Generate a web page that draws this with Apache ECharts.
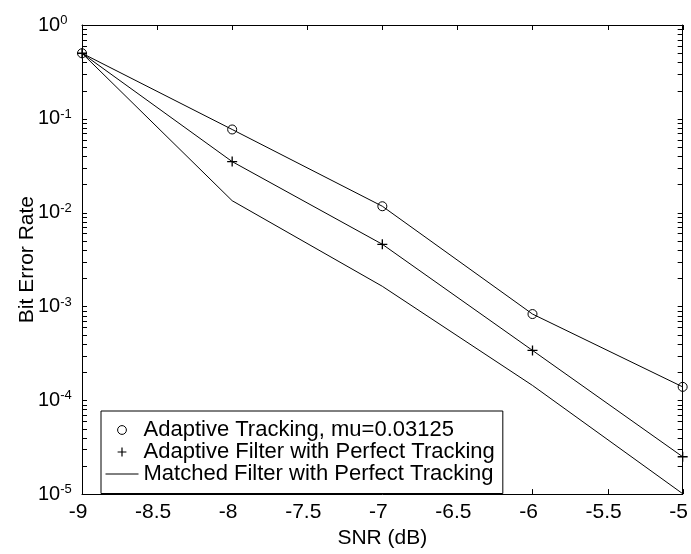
<!DOCTYPE html>
<html>
<head>
<meta charset="utf-8">
<script src="https://cdn.jsdelivr.net/npm/echarts@6/dist/echarts.min.js"></script>
<style>
html,body{margin:0;padding:0;background:#fff;}
#chart{width:691px;height:554px;}
</style>
</head>
<body>
<div id="chart"></div>
<script>
// ---- data ----
var snr = [-9, -8, -7, -6, -5];
var adaptiveTracking = [0.5, 0.077, 0.0117, 0.00083, 0.000139];
var adaptivePerfect = [0.5, 0.035, 0.0046, 0.00034, 0.000025];
var matchedPerfect = [0.5, 0.0134, 0.00164, 0.000144, 0.0000101];
var seriesNames = ['Adaptive Tracking, mu=0.03125', 'Adaptive Filter with Perfect Tracking', 'Matched Filter with Perfect Tracking'];
var xTicks = [-9, -8.5, -8, -7.5, -7, -6.5, -6, -5.5, -5];
var yDecades = [1e-5, 1e-4, 1e-3, 1e-2, 1e-1, 1];
var yMinorTicks = [
  2e-5, 3e-5, 4e-5, 5e-5, 6e-5, 7e-5, 8e-5, 9e-5,
  2e-4, 3e-4, 4e-4, 5e-4, 6e-4, 7e-4, 8e-4, 9e-4,
  2e-3, 3e-3, 4e-3, 5e-3, 6e-3, 7e-3, 8e-3, 9e-3,
  2e-2, 3e-2, 4e-2, 5e-2, 6e-2, 7e-2, 8e-2, 9e-2,
  2e-1, 3e-1, 4e-1, 5e-1, 6e-1, 7e-1, 8e-1, 9e-1
];

function pairs(xs, ys) { return xs.map(function (x, i) { return [x, ys[i]]; }); }

var FONT = "'Liberation Sans', Arial, Helvetica, sans-serif";
var TICK_LEN = 5;
var chart = echarts.init(document.getElementById('chart'), null, {renderer: 'canvas'});

var circlePath = 'path://M10,5A5,5 0 1,1 0,5A5,5 0 1,1 10,5Z';
var plusPath = 'path://M0,5L10,5M5,0L5,10';

function tickLine(x1, y1, x2, y2) {
  return {type: 'line', shape: {x1: x1, y1: y1, x2: x2, y2: y2}, style: {stroke: '#000', lineWidth: 1}};
}

var option = {
  backgroundColor: '#fff',
  animation: false,
  textStyle: {fontFamily: FONT, color: '#000'},
  grid: {left: 82, right: 8, top: 25, bottom: 57, containLabel: false},
  legend: {
    orient: 'vertical',
    left: 101,
    top: 411,
    padding: [8, 8, 8.5, 4],
    itemGap: 0,
    itemWidth: 33,
    itemHeight: 11,
    borderColor: '#000',
    borderWidth: 1,
    backgroundColor: '#fff',
    selectedMode: false,
    textStyle: {fontFamily: FONT, fontSize: 22, color: '#000', lineHeight: 18.5},
    data: [
      {name: seriesNames[0], lineStyle: {width: 0}, itemStyle: {borderWidth: 1, borderColor: '#000', color: 'rgba(0,0,0,0)'}},
      {name: seriesNames[1], lineStyle: {width: 0}, itemStyle: {borderWidth: 1.2, borderColor: '#000', color: 'rgba(0,0,0,0)'}},
      {name: seriesNames[2], lineStyle: {width: 1, color: '#000'}, itemStyle: {opacity: 0}}
    ]
  },
  xAxis: [
    {
      type: 'value', min: -9, max: -5, interval: 0.5,
      name: 'SNR (dB)', nameLocation: 'middle', nameGap: 32,
      nameTextStyle: {fontFamily: FONT, fontSize: 21, color: '#000'},
      axisLine: {show: true, lineStyle: {color: '#000', width: 1}},
      axisTick: {show: false},
      axisLabel: {
        show: true, margin: 8, fontFamily: FONT, fontSize: 21, color: '#000',
        padding: [0, 8, 0, 0], showMinLabel: true, showMaxLabel: true,
        formatter: function (v) { return String(v); }
      },
      splitLine: {show: false}
    },
    {
      type: 'value', min: -9, max: -5, interval: 0.5, position: 'top',
      axisLine: {show: true, onZero: false, lineStyle: {color: '#000', width: 1}},
      axisTick: {show: false},
      axisLabel: {show: false},
      splitLine: {show: false}
    }
  ],
  yAxis: [
    {
      type: 'log', logBase: 10, min: 1e-5, max: 1, splitNumber: 5,
      name: 'Bit Error Rate', nameLocation: 'middle', nameGap: 44, nameMoveOverlap: false,
      nameTextStyle: {fontFamily: FONT, fontSize: 21, color: '#000'},
      axisLine: {show: true, onZero: false, lineStyle: {color: '#000', width: 1}},
      axisTick: {show: false},
      axisLabel: {
        show: true, margin: 44, align: 'left', color: '#000',
        formatter: function (v) {
          var e = Math.round(Math.log(v) / Math.LN10);
          return '{b|10}{s|' + e + '}';
        },
        rich: {
          b: {fontFamily: FONT, fontSize: 20, lineHeight: 22, color: '#000'},
          s: {fontFamily: FONT, fontSize: 13, lineHeight: 13, verticalAlign: 'top', color: '#000'}
        }
      },
      splitLine: {show: false}
    },
    {
      type: 'log', logBase: 10, min: 1e-5, max: 1, splitNumber: 5, position: 'right',
      axisLine: {show: true, onZero: false, lineStyle: {color: '#000', width: 1}},
      axisTick: {show: false},
      axisLabel: {show: false},
      splitLine: {show: false}
    }
  ],
  series: [
    {
      name: seriesNames[0], type: 'line', xAxisIndex: 0, yAxisIndex: 0,
      data: pairs(snr, adaptiveTracking),
      symbol: circlePath, symbolSize: 9, showAllSymbol: true,
      itemStyle: {color: 'rgba(0,0,0,0)', borderColor: '#000', borderWidth: 1},
      lineStyle: {color: '#000', width: 1},
      z: 3
    },
    {
      name: seriesNames[1], type: 'line', xAxisIndex: 0, yAxisIndex: 0,
      data: pairs(snr, adaptivePerfect),
      symbol: plusPath, symbolSize: 10, showAllSymbol: true,
      itemStyle: {color: 'rgba(0,0,0,0)', borderColor: '#000', borderWidth: 1.3},
      lineStyle: {color: '#000', width: 1},
      z: 3
    },
    {
      name: seriesNames[2], type: 'line', xAxisIndex: 0, yAxisIndex: 0,
      data: pairs(snr, matchedPerfect),
      symbol: 'none',
      itemStyle: {color: '#000'},
      lineStyle: {color: '#000', width: 1},
      z: 3
    },
    {
      // y ticks (decades + log minor ticks), drawn inward on left and right edges
      name: 'yTicks', type: 'custom', xAxisIndex: 0, yAxisIndex: 0,
      silent: true, clip: false,
      data: yDecades.concat(yMinorTicks).map(function (v) { return [xTicks[0], v]; }),
      renderItem: function (params, api) {
        var p = api.coord([api.value(0), api.value(1)]);
        var cs = params.coordSys;
        var x0 = cs.x, x1 = cs.x + cs.width, y = Math.round(p[1]) + 0.5;
        return {
          type: 'group',
          children: [tickLine(x0, y, x0 + TICK_LEN, y), tickLine(x1 - TICK_LEN, y, x1, y)]
        };
      },
      z: 2
    },
    {
      // x ticks drawn inward on bottom and top edges
      name: 'xTicks', type: 'custom', xAxisIndex: 0, yAxisIndex: 0,
      silent: true, clip: false,
      data: xTicks.map(function (x) { return [x, yDecades[0]]; }),
      renderItem: function (params, api) {
        var p = api.coord([api.value(0), api.value(1)]);
        var cs = params.coordSys;
        var y0 = cs.y, y1 = cs.y + cs.height, x = Math.round(p[0]) + 0.5;
        return {
          type: 'group',
          children: [tickLine(x, y1 - TICK_LEN, x, y1), tickLine(x, y0, x, y0 + TICK_LEN)]
        };
      },
      z: 2
    }
  ]
};
chart.setOption(option);
</script>
</body>
</html>
